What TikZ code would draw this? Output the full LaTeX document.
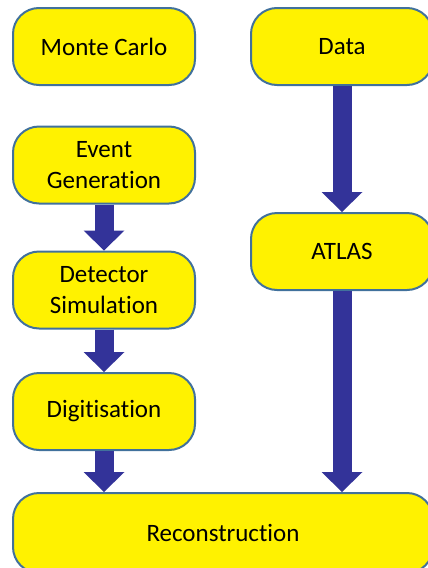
\documentclass[tikz,border=0pt]{standalone}
\usepackage{fontspec}
\setmainfont{Carlito}[Ligatures=NoCommon]
\usetikzlibrary{arrows.meta}
\definecolor{boxline}{RGB}{65,113,156}
\definecolor{flow}{RGB}{51,51,153}

\begin{document}
\begin{tikzpicture}[x=1pt,y=-1pt,
    stage/.style={draw=boxline,line width=2pt,fill=yellow,rounded corners=26pt,
      minimum width=182pt,minimum height=77pt,align=center,
      font=\fontsize{25}{31}\selectfont},
    flowarrow/.style={flow,line width=19pt,
      -{Triangle[length=20pt,width=41pt,line width=0pt]}}]
    \useasboundingbox (0,0) rectangle (428,568);

    % left column: simulation chain
    \node[stage] (mc) at (104,46.5) {Monte Carlo};
    \node[stage] (evgen) at (104,165) {Event\\Generation};
    \node[stage] (detsim) at (104,290) {Detector\\Simulation};
    \node[stage] (digi) at (104,411.5) {Digitisation};

    % right column: real data
    \node[stage] (data) at (342,46.5) {Data};
    \node[stage] (atlas) at (342,251.5) {ATLAS};

    \node[stage,minimum width=420pt,minimum height=80pt] (reco) at (223,533) {Reconstruction};

    \draw[flowarrow] (evgen.south) -- (detsim.north);
    \draw[flowarrow] (detsim.south) -- (digi.north);
    \draw[flowarrow] (digi.south) -- (digi.south |- reco.north);
    \draw[flowarrow] (data.south) -- (atlas.north);
    \draw[flowarrow] (atlas.south) -- (atlas.south |- reco.north);
\end{tikzpicture}
\end{document}
